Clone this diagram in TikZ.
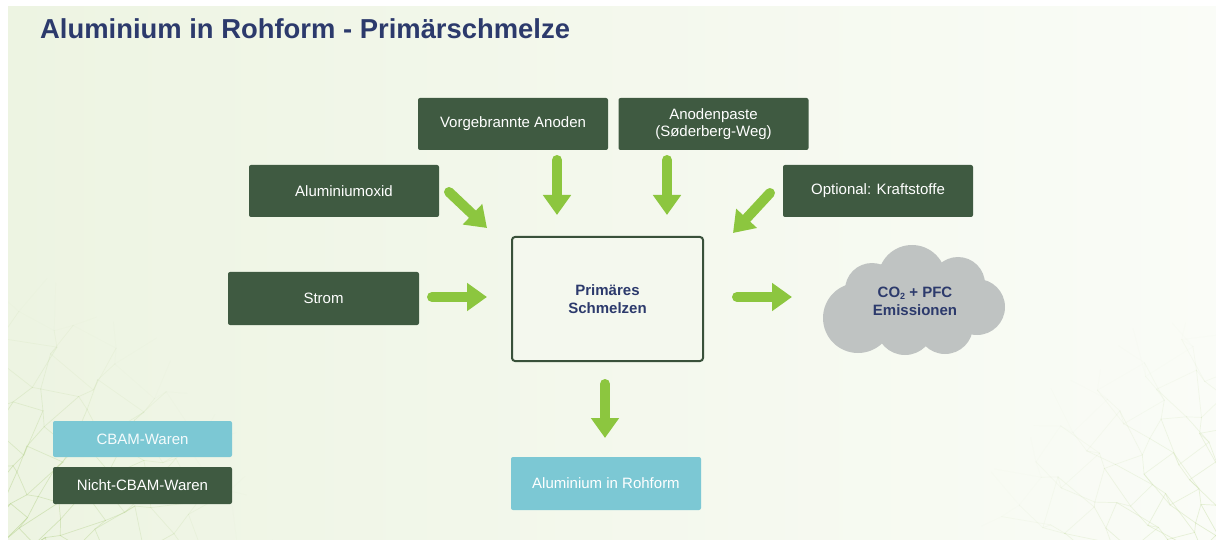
\documentclass[tikz,border=0pt]{standalone}
\usepackage{fontspec}
\setmainfont{Liberation Sans}
\usetikzlibrary{arrows.meta,positioning}

\definecolor{boxgreen}{HTML}{3F5A41}
\definecolor{boxblue}{HTML}{7CC8D4}
\definecolor{arrowgreen}{HTML}{8CC63F}
\definecolor{navy}{HTML}{2C3A6C}
\definecolor{cloudgray}{HTML}{BFC3C2}
\definecolor{bgleft}{HTML}{EDF4E2}
\definecolor{bgmid}{HTML}{F4F8EE}
\definecolor{bgright}{HTML}{FAFCF7}
\definecolor{veinL}{HTML}{BBD595}
\definecolor{veinR}{HTML}{CFE2B2}

\tikzset{
  x=1pt, y=-1pt,
  inbox/.style={fill=boxgreen, text=white, rounded corners=2pt,
    minimum width=190pt, minimum height=52pt, align=center,
    font=\fontsize{15}{17}\selectfont, inner sep=0pt},
  goodsbox/.style={fill=boxblue, text=white, rounded corners=2pt,
    minimum width=190pt, minimum height=53pt, align=center,
    font=\fontsize{15}{17}\selectfont, inner sep=0pt},
  legendbox/.style={rounded corners=2pt, minimum width=179pt,
    minimum height=36pt, align=center, inner sep=0pt,
    font=\fontsize{15}{17}\selectfont},
  procbox/.style={draw=boxgreen!90!black, line width=2pt, fill=bgmid,
    rounded corners=3pt, minimum width=191pt, minimum height=124pt,
    align=center, text=navy, font=\bfseries\fontsize{15}{18}\selectfont},
  flow/.style={draw=arrowgreen, line width=10pt, line cap=round,
    -{Triangle[width=27pt,length=20pt]}},
  vein/.style={line width=0.7pt, line cap=round},
  declare function={vrad(\i,\j)=35+31*\j+9*sin(97*\i+211*\j);
                    vang(\i,\j)=3*sin(173*\i+59*\j);}
}

% a faint net of leaf veins fanning out from a centre point
% #1,#2 centre, #3 first angle, #4 angle step, #5 colour
\newcommand\leafnet[5]{%
  \foreach \i in {0,...,12}{%
    \foreach \j in {0,...,9}{%
      \pgfmathsetmacro\rA{vrad(\i,\j)}%
      \pgfmathsetmacro\aA{#3+#4*\i+vang(\i,\j)}%
      \pgfmathtruncatemacro\jN{\j+1}%
      \pgfmathsetmacro\rB{vrad(\i,\jN)}%
      \pgfmathsetmacro\aB{#3+#4*\i+vang(\i,\jN)}%
      \pgfmathtruncatemacro\iN{\i+1}%
      \pgfmathsetmacro\rC{vrad(\iN,\j)}%
      \pgfmathsetmacro\aC{#3+#4*\iN+vang(\iN,\j)}%
      \pgfmathsetmacro\vop{max(0,0.8-0.085*\j)}%
      \draw[vein, draw=#5, opacity=\vop]
        ([shift={(\aA:\rA)}]#1,#2) -- ([shift={(\aB:\rB)}]#1,#2);
      \ifnum\i<12
        \draw[vein, draw=#5, opacity=\vop]
          ([shift={(\aA:\rA)}]#1,#2) -- ([shift={(\aC:\rC)}]#1,#2);
      \fi
    }%
  }%
}

\begin{document}
\begin{tikzpicture}
\useasboundingbox (0,0) rectangle (1216,540);

% page and slide background
\fill[white] (0,0) rectangle (1216,540);
\shade[left color=bgleft, middle color=bgmid, right color=bgright]
  (8,7) rectangle (1216,540);

% leaf veins in the lower corners
\begin{scope}
  \clip (8,7) rectangle (1216,540);
  \leafnet{-70}{610}{-78}{5.4}{veinL}
  \leafnet{1300}{640}{-158}{4.5}{veinR}
\end{scope}

% title
\node[anchor=base west, inner sep=0pt, text=navy,
      font=\bfseries\fontsize{27.4}{31}\selectfont] (title) at (40,39)
  {Aluminium in Rohform - Primärschmelze};

% inputs
\node[inbox] (vor)   at (513,124)   {Vorgebrannte Anoden};
\node[inbox] (ano)   at (713.5,124) {Anodenpaste\\(Søderberg-Weg)};
\node[inbox] (alu)   at (344,191)   {Aluminiumoxid};
\node[inbox] (opt)   at (878,191)   {Optional: Kraftstoffe};
\node[inbox, minimum width=191pt, minimum height=53pt] (strom) at (323.5,298.5) {Strom};

% process
\node[procbox] (proc) at (607.5,299) {Primäres\\Schmelzen};

% emissions cloud
\begin{scope}[fill=cloudgray]
  \fill (914,302) ellipse [x radius=74, y radius=42];
  \fill (858,318) circle [radius=35];
  \fill (872,290) circle [radius=27];
  \fill (912,279) circle [radius=34];
  \fill (958,284) circle [radius=27];
  \fill (977,307) circle [radius=28];
  \fill (945,326) circle [radius=28];
  \fill (905,326) circle [radius=29];
\end{scope}
\node[align=center, text=navy, font=\bfseries\fontsize{15}{18}\selectfont]
  (cloud) at (915,301)
  {CO{\fontsize{9}{9}\selectfont\raisebox{-2pt}{2}} + PFC\\Emissionen};

% output
\node[goodsbox] (out) at (606,483.5) {Aluminium in Rohform};

% legend
\node[legendbox, fill=boxblue, text=white!92!boxblue] (lgA) at (142.5,439) {CBAM-Waren};
\node[legendbox, fill=boxgreen, text=white, minimum height=37pt] (lgB) at (142.5,485.5) {Nicht-CBAM-Waren};

% arrow end points
\coordinate (aluS) at (449,192);  \coordinate (aluE) at (487,228);
\coordinate (vorS) at (557,160);  \coordinate (vorE) at (557,215);
\coordinate (anoS) at (667,160);  \coordinate (anoE) at (667,215);
\coordinate (optS) at (770,193);  \coordinate (optE) at (733,233);
\coordinate (strS) at (432,297);  \coordinate (strE) at (487,297);
\coordinate (emiS) at (737,297);  \coordinate (emiE) at (792,297);
\coordinate (outS) at (605,384);  \coordinate (outE) at (605,438);

% flows
\draw[flow] (aluS) -- (aluE);
\draw[flow] (vorS) -- (vorE);
\draw[flow] (anoS) -- (anoE);
\draw[flow] (optS) -- (optE);
\draw[flow] (strS) -- (strE);
\draw[flow] (emiS) -- (emiE);
\draw[flow] (outS) -- (outE);
\end{tikzpicture}
\end{document}
